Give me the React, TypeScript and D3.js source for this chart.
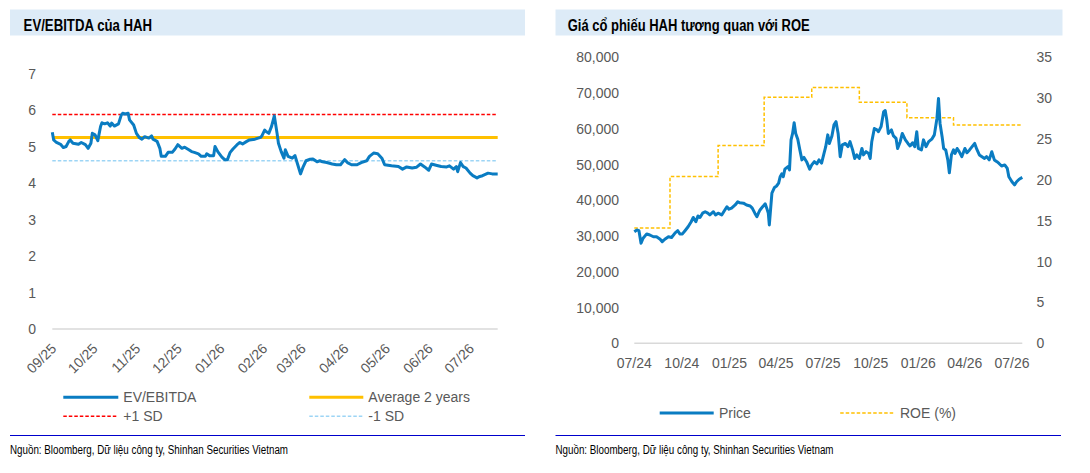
import React from 'react';
import * as d3 from 'd3';

// ---------- Left chart: EV/EBITDA ----------
const evStart = '2025-08-31';
const evDays = [0,1,3,6,8,10,12,13,15,19,21,24,26,28,29,31,33,35,36,38,40,42,43,45,48,50,51,53,55,56,59,61,63,65,67,70,72,73,76,78,79,82,84,87,89,91,94,96,99,101,103,106,108,111,112,114,117,118,120,123,125,127,129,131,134,136,138,141,143,147,151,152,154,155,157,159,161,163,164,166,168,169,171,174,176,178,180,182,184,187,189,192,194,196,199,203,206,209,212,214,217,221,224,228,230,233,236,239,241,246,251,254,257,261,264,267,270,273,275,279,282,286,288,291,293,294,296,298,300,303,305,308,310,312,316,319,323];
const evValues = [5.39,5.18,5.11,5.06,4.97,5.0,5.14,5.18,5.09,5.06,5.11,5.05,4.95,5.09,5.36,5.32,5.16,5.55,5.65,5.62,5.65,5.56,5.64,5.56,5.62,5.86,5.91,5.89,5.91,5.73,5.59,5.36,5.25,5.2,5.27,5.23,5.29,5.2,5.14,4.95,4.73,4.73,4.84,4.84,4.93,5.05,4.95,4.98,4.91,4.86,4.84,4.8,4.73,4.73,4.8,4.75,4.75,5.0,4.86,4.71,4.64,4.64,4.84,4.93,5.05,5.11,5.07,5.14,5.18,5.2,5.25,5.29,5.45,5.41,5.36,5.55,5.84,5.36,5.09,4.86,4.68,4.91,4.73,4.68,4.75,4.5,4.25,4.45,4.61,4.65,4.66,4.58,4.61,4.58,4.56,4.52,4.5,4.5,4.64,4.56,4.5,4.5,4.56,4.61,4.73,4.82,4.8,4.68,4.5,4.47,4.45,4.38,4.44,4.41,4.43,4.52,4.44,4.35,4.52,4.48,4.45,4.44,4.47,4.38,4.45,4.31,4.56,4.45,4.41,4.27,4.2,4.14,4.18,4.2,4.27,4.25,4.25];
const evAverage = 5.25;
const evPlus1SD = 5.88;
const evMinus1SD = 4.61;
const evYTicks = [0, 1, 2, 3, 4, 5, 6, 7];
const evTickMonths = ['2025-09-01','2025-10-01','2025-11-01','2025-12-01','2026-01-01','2026-02-01','2026-03-01','2026-04-01','2026-05-01','2026-06-01','2026-07-01'];
const evLegend = ['EV/EBITDA', 'Average 2 years', '+1 SD', '-1 SD'];

// ---------- Right chart: Price vs ROE ----------
const priceStart = '2024-07-01';
const priceDays = [0,5,9,13,17,24,30,37,43,50,54,59,66,72,79,84,88,93,98,104,110,114,119,123,127,132,137,142,146,153,157,162,169,175,179,183,188,195,200,204,211,217,224,228,233,237,240,243,248,253,256,259,261,266,271,275,279,282,285,288,291,297,300,303,306,309,312,316,320,324,328,333,339,343,348,353,357,362,366,370,374,377,382,386,390,394,398,402,408,413,417,422,426,430,435,440,443,448,453,456,459,464,469,472,477,482,485,488,491,497,501,506,509,514,518,524,529,533,538,542,546,549,555,559,564,569,575,580,585,588,591,595,598,602,606,609,613,617,620,624,628,633,639,643,648,653,658,662,667,672,677,681,686,691,696,701,705,710,716,721,724,730,735,739,744,750];
const priceValues = [31200,31700,31500,28000,29400,30600,30300,29800,29800,29100,28400,29100,29800,29600,30900,31500,30600,30600,31500,32600,34000,35200,34000,35600,35200,36400,36800,36400,35900,36800,35900,36400,35900,37300,38200,37500,37800,38700,39600,39300,39200,38700,38400,37800,36400,35400,36400,37300,38200,39000,37800,36400,33100,42000,43600,44000,44800,46600,47400,46600,48700,49400,48500,56900,58700,61700,58700,57100,54100,51300,52000,50800,48700,49900,50800,50200,51300,50400,52700,55000,58300,55900,58000,61100,62000,58700,52200,55500,55900,55000,56400,54100,51700,52700,51700,54500,52700,53600,53100,51700,56400,60100,59700,59200,60600,64800,65100,62500,58700,59700,58000,57300,54500,56400,58700,56900,55900,55200,56100,55000,59200,54500,54100,56900,55000,56400,57100,58300,62900,68500,61500,57800,54500,54100,51300,47700,52700,54100,53100,54500,53600,52200,54500,53300,54100,55000,55900,54300,52700,52200,51700,52200,51300,53600,51300,50800,50300,49600,49900,48900,46600,45200,44300,45200,45900,46400];
const roeDays = [0, 69, 162, 251, 343, 435, 527, 617, 750];
const roeValues = [14.1, 20.4, 24.2, 30.1, 31.3, 29.5, 27.6, 26.7, 26.7];
const priceTicks = [0, 10000, 20000, 30000, 40000, 50000, 60000, 70000, 80000];
const roeTicks = [0, 5, 10, 15, 20, 25, 30, 35];
const priceTickMonths = ['2024-07-01','2024-10-01','2025-01-01','2025-04-01','2025-07-01','2025-10-01','2026-01-01','2026-04-01','2026-07-01'];
const priceLegend = ['Price', 'ROE (%)'];

const leftTitle = 'EV/EBITDA của HAH';
const rightTitle = 'Giá cổ phiếu HAH tương quan với ROE';
const sourceNote = 'Nguồn: Bloomberg, Dữ liệu công ty, Shinhan Securities Vietnam';

const BLUE = '#0A7CC2';
const YELLOW = '#FFC000';
const RED = '#FF0000';
const LIGHTBLUE = '#9DD5F5';
const GREY = '#595959';
const FONT = "'Liberation Sans', Arial, sans-serif";
const NARROW = "'Liberation Sans Narrow', 'Arial Narrow', 'Liberation Sans', Arial, sans-serif";

const parse = d3.timeParse('%Y-%m-%d');
const fmt = d3.timeFormat('%m/%y');

export default function App() {
  // Left scales
  const evStartDate = parse(evStart) as Date;
  const evDates = evDays.map((d) => d3.timeDay.offset(evStartDate, d));
  const xL = d3.scaleTime()
    .domain([evStartDate, d3.timeDay.offset(evStartDate, evDays[evDays.length - 1])])
    .range([52.3, 497.7]);
  const yL = d3.scaleLinear().domain([0, 7]).range([329, 73.5]);
  const evLine = d3.line<number>()
    .x((_, i) => xL(evDates[i]))
    .y((v) => yL(v));

  // Right scales
  const pStartDate = parse(priceStart) as Date;
  const pDates = priceDays.map((d) => d3.timeDay.offset(pStartDate, d));
  const rDates = roeDays.map((d) => d3.timeDay.offset(pStartDate, d));
  const xR = d3.scaleTime()
    .domain([pStartDate, d3.timeDay.offset(pStartDate, priceDays[priceDays.length - 1])])
    .range([634.3, 1022.3]);
  const yP = d3.scaleLinear().domain([0, 80000]).range([343.3, 57.3]);
  const yR = d3.scaleLinear().domain([0, 35]).range([343.3, 57.3]);
  const priceLine = d3.line<number>()
    .x((_, i) => xR(pDates[i]))
    .y((v) => yP(v));
  const roeLine = d3.line<number>()
    .x((_, i) => xR(rDates[i]))
    .y((v) => yR(v))
    .curve(d3.curveStepAfter);
  const numFmt = d3.format(',');

  const [x0L, x1L] = xL.range();
  const [x0R, x1R] = xR.range();

  return (
    <svg width={1090} height={473} style={{ position: 'absolute', left: 0, top: 0, background: '#fff' }}
      fontFamily={FONT}>
      {/* Titles */}
      <rect x={10} y={9.5} width={515} height={26} fill="#DDEBF7" />
      <text x={23.6} y={31} fontFamily={NARROW} fontWeight="bold" fontSize={16} fill="#000"
        textLength={128.5} lengthAdjust="spacingAndGlyphs">{leftTitle}</text>
      <rect x={555.5} y={9.5} width={507} height={26} fill="#DDEBF7" />
      <text x={567.7} y={31} fontFamily={NARROW} fontWeight="bold" fontSize={16} fill="#000"
        textLength={242} lengthAdjust="spacingAndGlyphs">{rightTitle}</text>

      {/* ---------- Left chart ---------- */}
      <line x1={x0L} x2={x1L} y1={yL(0)} y2={yL(0)} stroke="#D9D9D9" strokeWidth={1.5} />
      {evYTicks.map((t) => (
        <text key={t} x={36} y={yL(t)} textAnchor="end" dominantBaseline="central" fontSize={14} fill={GREY}>{t}</text>
      ))}
      {evTickMonths.map((m) => {
        const x = xL(parse(m) as Date);
        return (
          <text key={m} transform={`translate(${x},346) rotate(-45)`} textAnchor="end" dominantBaseline="central"
            fontSize={14} fill={GREY}>{fmt(parse(m) as Date)}</text>
        );
      })}
      <line x1={x0L} x2={x1L} y1={yL(evPlus1SD)} y2={yL(evPlus1SD)} stroke={RED} strokeWidth={1.5} strokeDasharray="3.5 2" />
      <line x1={x0L} x2={x1L} y1={yL(evMinus1SD)} y2={yL(evMinus1SD)} stroke={LIGHTBLUE} strokeWidth={1.5} strokeDasharray="3.5 2" />
      <line x1={x0L} x2={x1L} y1={yL(evAverage)} y2={yL(evAverage)} stroke={YELLOW} strokeWidth={3} />
      <path d={evLine(evValues) || ''} fill="none" stroke={BLUE} strokeWidth={3} strokeLinejoin="round" />

      {/* Left legend */}
      <line x1={63.3} x2={118.3} y1={397.3} y2={397.3} stroke={BLUE} strokeWidth={3} />
      <text x={123.3} y={397.3} dominantBaseline="central" fontSize={14} fill={GREY}>{evLegend[0]}</text>
      <line x1={309.3} x2={363.3} y1={397.3} y2={397.3} stroke={YELLOW} strokeWidth={3} />
      <text x={368.3} y={397.3} dominantBaseline="central" fontSize={14} fill={GREY}>{evLegend[1]}</text>
      <line x1={63.3} x2={118.3} y1={416.3} y2={416.3} stroke={RED} strokeWidth={1.5} strokeDasharray="3.5 2" />
      <text x={123.3} y={416.3} dominantBaseline="central" fontSize={14} fill={GREY}>{evLegend[2]}</text>
      <line x1={309.3} x2={363.3} y1={416.3} y2={416.3} stroke={LIGHTBLUE} strokeWidth={1.5} strokeDasharray="3.5 2" />
      <text x={368.3} y={416.3} dominantBaseline="central" fontSize={14} fill={GREY}>{evLegend[3]}</text>

      <line x1={10} x2={525} y1={435.5} y2={435.5} stroke="#0000CC" strokeWidth={1} />
      <text x={10} y={454} fontFamily={NARROW} fontSize={12} fill="#000" textLength={278} lengthAdjust="spacingAndGlyphs">{sourceNote}</text>

      {/* ---------- Right chart ---------- */}
      <line x1={x0R} x2={x1R} y1={yP(0)} y2={yP(0)} stroke="#D9D9D9" strokeWidth={1.5} />
      {priceTicks.map((t) => (
        <text key={t} x={619} y={yP(t)} textAnchor="end" dominantBaseline="central" fontSize={14} fill={GREY}>{numFmt(t)}</text>
      ))}
      {roeTicks.map((t) => (
        <text key={t} x={1036.5} y={yR(t)} textAnchor="start" dominantBaseline="central" fontSize={14} fill={GREY}>{t}</text>
      ))}
      {priceTickMonths.map((m) => (
        <text key={m} x={xR(parse(m) as Date)} y={363.3} textAnchor="middle" dominantBaseline="central"
          fontSize={14} fill={GREY}>{fmt(parse(m) as Date)}</text>
      ))}
      <path d={roeLine(roeValues) || ''} fill="none" stroke={YELLOW} strokeWidth={1.5} strokeDasharray="3.5 2" />
      <path d={priceLine(priceValues) || ''} fill="none" stroke={BLUE} strokeWidth={3} strokeLinejoin="round" />

      {/* Right legend */}
      <line x1={659.7} x2={713.7} y1={413} y2={413} stroke={BLUE} strokeWidth={3} />
      <text x={719} y={413} dominantBaseline="central" fontSize={14} fill={GREY}>{priceLegend[0]}</text>
      <line x1={840.2} x2={893.3} y1={413} y2={413} stroke={YELLOW} strokeWidth={1.5} strokeDasharray="3.5 2" />
      <text x={900} y={413} dominantBaseline="central" fontSize={14} fill={GREY}>{priceLegend[1]}</text>

      <line x1={555.5} x2={1061} y1={435.5} y2={435.5} stroke="#0000CC" strokeWidth={1} />
      <text x={555.5} y={454} fontFamily={NARROW} fontSize={12} fill="#000" textLength={278} lengthAdjust="spacingAndGlyphs">{sourceNote}</text>
    </svg>
  );
}
